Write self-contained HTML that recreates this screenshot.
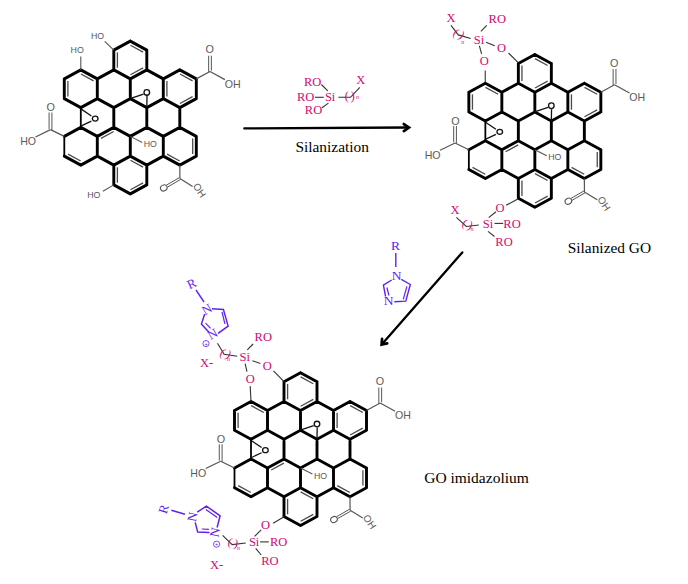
<!DOCTYPE html>
<html><head><meta charset="utf-8"><style>
html,body{margin:0;padding:0;background:#fff;}
body{width:688px;height:584px;overflow:hidden;}
svg{display:block;}
</style></head><body>
<svg width="688" height="584" viewBox="0 0 688 584">
<path d="M80.80 127.38L80.80 107.62" stroke="#000" stroke-width="1.8" stroke-linecap="round"/>
<path d="M64.30 156.12L64.30 136.38" stroke="#000" stroke-width="1.8" stroke-linecap="round"/>
<path d="M130.30 41.12L146.80 50.12M146.80 50.12L146.80 69.88M130.30 78.88L146.80 69.88M113.80 69.88L130.30 78.88M113.80 69.88L113.80 50.12M113.80 50.12L130.30 41.12M80.80 69.88L97.30 78.88M97.30 98.62L97.30 78.88M80.80 107.62L97.30 98.62M80.80 107.62L64.30 98.62M64.30 98.62L64.30 78.88M64.30 78.88L80.80 69.88M130.30 98.62L130.30 78.88M113.80 107.62L130.30 98.62M97.30 98.62L113.80 107.62M97.30 78.88L113.80 69.88M146.80 69.88L163.30 78.88M163.30 98.62L163.30 78.88M146.80 107.62L163.30 98.62M130.30 98.62L146.80 107.62M179.80 69.88L196.30 78.88M196.30 78.88L196.30 98.62M196.30 98.62L179.80 107.62M163.30 98.62L179.80 107.62M163.30 78.88L179.80 69.88M113.80 127.38L113.80 107.62M97.30 136.38L113.80 127.38M80.80 127.38L97.30 136.38M146.80 127.38L146.80 107.62M130.30 136.38L146.80 127.38M113.80 127.38L130.30 136.38M179.80 107.62L179.80 127.38M163.30 136.38L179.80 127.38M146.80 127.38L163.30 136.38M97.30 156.12L97.30 136.38M97.30 156.12L80.80 165.12M80.80 165.12L64.30 156.12M64.30 136.38L80.80 127.38M130.30 156.12L130.30 136.38M113.80 165.12L130.30 156.12M113.80 165.12L97.30 156.12M163.30 156.12L163.30 136.38M163.30 156.12L146.80 165.12M130.30 156.12L146.80 165.12M179.80 127.38L196.30 136.38M196.30 136.38L196.30 156.12M196.30 156.12L179.80 165.12M179.80 165.12L163.30 156.12M146.80 165.12L146.80 184.88M146.80 184.88L130.30 193.88M130.30 193.88L113.80 184.88M113.80 184.88L113.80 165.12" stroke="#000" stroke-width="2.9" stroke-linecap="round" fill="none"/>
<line x1="117.40" y1="67.67" x2="117.40" y2="52.33" stroke="#4a4a4a" stroke-width="1.3" stroke-linecap="butt"/>
<line x1="130.44" y1="45.30" x2="143.08" y2="52.19" stroke="#4a4a4a" stroke-width="1.3" stroke-linecap="butt"/>
<line x1="143.08" y1="67.81" x2="130.44" y2="74.70" stroke="#4a4a4a" stroke-width="1.3" stroke-linecap="butt"/>
<line x1="67.90" y1="96.42" x2="67.90" y2="81.08" stroke="#4a4a4a" stroke-width="1.3" stroke-linecap="butt"/>
<line x1="80.94" y1="74.05" x2="93.58" y2="80.94" stroke="#4a4a4a" stroke-width="1.3" stroke-linecap="butt"/>
<line x1="166.90" y1="96.42" x2="166.90" y2="81.08" stroke="#4a4a4a" stroke-width="1.3" stroke-linecap="butt"/>
<line x1="179.94" y1="74.05" x2="192.58" y2="80.94" stroke="#4a4a4a" stroke-width="1.3" stroke-linecap="butt"/>
<line x1="192.58" y1="96.56" x2="179.94" y2="103.45" stroke="#4a4a4a" stroke-width="1.3" stroke-linecap="butt"/>
<line x1="80.66" y1="160.95" x2="68.02" y2="154.06" stroke="#4a4a4a" stroke-width="1.3" stroke-linecap="butt"/>
<line x1="101.02" y1="138.44" x2="113.66" y2="131.55" stroke="#4a4a4a" stroke-width="1.3" stroke-linecap="butt"/>
<line x1="192.70" y1="138.57" x2="192.70" y2="153.93" stroke="#4a4a4a" stroke-width="1.3" stroke-linecap="butt"/>
<line x1="179.66" y1="160.95" x2="167.02" y2="154.06" stroke="#4a4a4a" stroke-width="1.3" stroke-linecap="butt"/>
<line x1="117.40" y1="182.68" x2="117.40" y2="167.32" stroke="#4a4a4a" stroke-width="1.3" stroke-linecap="butt"/>
<line x1="130.44" y1="160.30" x2="143.08" y2="167.19" stroke="#4a4a4a" stroke-width="1.3" stroke-linecap="butt"/>
<line x1="143.08" y1="182.81" x2="130.44" y2="189.70" stroke="#4a4a4a" stroke-width="1.3" stroke-linecap="butt"/>
<line x1="81.30" y1="109.12" x2="91.40" y2="115.95" stroke="#111" stroke-width="1.3" stroke-linecap="butt"/>
<line x1="81.30" y1="125.88" x2="91.40" y2="121.15" stroke="#111" stroke-width="1.3" stroke-linecap="butt"/>
<ellipse cx="95.20" cy="118.55" rx="2.8" ry="2.5" stroke="#111" stroke-width="1.3" fill="none"/>
<line x1="130.80" y1="98.33" x2="143.50" y2="94.05" stroke="#111" stroke-width="1.3" stroke-linecap="butt"/>
<line x1="146.80" y1="107.62" x2="147.00" y2="95.85" stroke="#111" stroke-width="1.3" stroke-linecap="butt"/>
<ellipse cx="146.80" cy="92.45" rx="2.8" ry="2.8" stroke="#111" stroke-width="1.3" fill="none"/>
<line x1="196.30" y1="78.88" x2="210.00" y2="71.45" stroke="#555" stroke-width="1.2" stroke-linecap="butt"/>
<line x1="208.60" y1="72.15" x2="208.60" y2="55.80" stroke="#666" stroke-width="1.1" stroke-linecap="butt"/>
<line x1="211.40" y1="70.75" x2="211.40" y2="55.80" stroke="#666" stroke-width="1.1" stroke-linecap="butt"/>
<text x="209.70" y="53.30" font-family="Liberation Sans" font-size="10.8" fill="#5a5a5a" text-anchor="middle">O</text>
<line x1="210.00" y1="71.45" x2="224.90" y2="79.65" stroke="#555" stroke-width="1.2" stroke-linecap="butt"/>
<text x="232.65" y="87.50" font-family="Liberation Sans" font-size="10.6" fill="#5a5a5a" text-anchor="middle">OH</text>
<line x1="64.30" y1="136.38" x2="50.50" y2="129.65" stroke="#555" stroke-width="1.2" stroke-linecap="butt"/>
<line x1="49.10" y1="128.95" x2="49.10" y2="112.60" stroke="#666" stroke-width="1.1" stroke-linecap="butt"/>
<line x1="51.90" y1="130.35" x2="51.90" y2="112.60" stroke="#666" stroke-width="1.1" stroke-linecap="butt"/>
<text x="50.80" y="111.30" font-family="Liberation Sans" font-size="10.8" fill="#5a5a5a" text-anchor="middle">O</text>
<line x1="50.50" y1="129.65" x2="35.50" y2="136.95" stroke="#555" stroke-width="1.2" stroke-linecap="butt"/>
<text x="28.10" y="145.30" font-family="Liberation Sans" font-size="10.6" fill="#5a5a5a" text-anchor="middle">HO</text>
<line x1="179.80" y1="165.12" x2="179.90" y2="178.60" stroke="#555" stroke-width="1.2" stroke-linecap="butt"/>
<line x1="180.45" y1="179.55" x2="167.47" y2="187.05" stroke="#555" stroke-width="1.0" stroke-linecap="butt"/>
<line x1="179.35" y1="177.65" x2="166.37" y2="185.15" stroke="#555" stroke-width="1.0" stroke-linecap="butt"/>
<ellipse cx="163.80" cy="187.90" rx="3.4" ry="2.9" transform="rotate(-30 163.80 187.90)" stroke="#555" stroke-width="1.1" fill="none"/>
<line x1="179.90" y1="178.60" x2="192.60" y2="186.45" stroke="#555" stroke-width="1.2" stroke-linecap="butt"/>
<text x="192.40" y="186.00" font-family="Liberation Sans" font-size="10" fill="#5a5a5a" text-anchor="start" transform="rotate(56 192.40 186.00)">OH</text>
<line x1="130.30" y1="136.38" x2="142.20" y2="142.50" stroke="#555" stroke-width="1.1" stroke-linecap="butt"/>
<text x="150.30" y="147.00" font-family="Liberation Sans" font-size="8.8" fill="#5a5a5a" text-anchor="middle">HO</text>
<line x1="113.80" y1="50.12" x2="104.70" y2="41.35" stroke="#555" stroke-width="1.1" stroke-linecap="butt"/>
<text x="97.50" y="38.70" font-family="Liberation Sans" font-size="8.8" fill="#5a5a5a" text-anchor="middle">HO</text>
<line x1="80.80" y1="69.88" x2="80.80" y2="56.60" stroke="#555" stroke-width="1.1" stroke-linecap="butt"/>
<text x="77.20" y="53.00" font-family="Liberation Sans" font-size="8.8" fill="#5a5a5a" text-anchor="middle">HO</text>
<line x1="113.80" y1="184.88" x2="102.90" y2="191.25" stroke="#555" stroke-width="1.1" stroke-linecap="butt"/>
<text x="93.80" y="198.40" font-family="Liberation Sans" font-size="8.8" fill="#5a5a5a" text-anchor="middle">HO</text>
<path d="M485.35 140.68L485.35 120.93" stroke="#000" stroke-width="1.8" stroke-linecap="round"/>
<path d="M468.85 169.43L468.85 149.68" stroke="#000" stroke-width="1.8" stroke-linecap="round"/>
<path d="M534.85 54.42L551.35 63.42M551.35 63.42L551.35 83.17M534.85 92.17L551.35 83.17M518.35 83.17L534.85 92.17M518.35 83.17L518.35 63.42M518.35 63.42L534.85 54.42M485.35 83.17L501.85 92.17M501.85 111.92L501.85 92.17M485.35 120.93L501.85 111.93M485.35 120.92L468.85 111.92M468.85 111.92L468.85 92.17M468.85 92.17L485.35 83.17M534.85 111.92L534.85 92.17M518.35 120.93L534.85 111.93M501.85 111.93L518.35 120.93M501.85 92.17L518.35 83.17M551.35 83.17L567.85 92.17M567.85 111.92L567.85 92.17M551.35 120.93L567.85 111.93M534.85 111.93L551.35 120.93M584.35 83.17L600.85 92.17M600.85 92.17L600.85 111.92M600.85 111.92L584.35 120.92M567.85 111.93L584.35 120.93M567.85 92.17L584.35 83.17M518.35 140.68L518.35 120.93M501.85 149.68L518.35 140.68M485.35 140.68L501.85 149.68M551.35 140.68L551.35 120.93M534.85 149.68L551.35 140.68M518.35 140.68L534.85 149.68M584.35 120.93L584.35 140.68M567.85 149.68L584.35 140.68M551.35 140.68L567.85 149.68M501.85 169.43L501.85 149.68M501.85 169.43L485.35 178.43M485.35 178.43L468.85 169.43M468.85 149.68L485.35 140.68M534.85 169.43L534.85 149.68M518.35 178.43L534.85 169.43M518.35 178.43L501.85 169.43M567.85 169.43L567.85 149.68M567.85 169.43L551.35 178.43M534.85 169.43L551.35 178.43M584.35 140.68L600.85 149.68M600.85 149.68L600.85 169.43M600.85 169.43L584.35 178.43M584.35 178.43L567.85 169.43M551.35 178.43L551.35 198.18M551.35 198.18L534.85 207.18M534.85 207.18L518.35 198.18M518.35 198.18L518.35 178.43" stroke="#000" stroke-width="2.9" stroke-linecap="round" fill="none"/>
<line x1="521.95" y1="80.97" x2="521.95" y2="65.62" stroke="#4a4a4a" stroke-width="1.3" stroke-linecap="butt"/>
<line x1="534.99" y1="58.60" x2="547.63" y2="65.49" stroke="#4a4a4a" stroke-width="1.3" stroke-linecap="butt"/>
<line x1="547.63" y1="81.11" x2="534.99" y2="88.00" stroke="#4a4a4a" stroke-width="1.3" stroke-linecap="butt"/>
<line x1="472.45" y1="109.72" x2="472.45" y2="94.38" stroke="#4a4a4a" stroke-width="1.3" stroke-linecap="butt"/>
<line x1="485.49" y1="87.35" x2="498.13" y2="94.24" stroke="#4a4a4a" stroke-width="1.3" stroke-linecap="butt"/>
<line x1="571.45" y1="109.72" x2="571.45" y2="94.38" stroke="#4a4a4a" stroke-width="1.3" stroke-linecap="butt"/>
<line x1="584.49" y1="87.35" x2="597.13" y2="94.24" stroke="#4a4a4a" stroke-width="1.3" stroke-linecap="butt"/>
<line x1="597.13" y1="109.86" x2="584.49" y2="116.75" stroke="#4a4a4a" stroke-width="1.3" stroke-linecap="butt"/>
<line x1="485.21" y1="174.25" x2="472.57" y2="167.36" stroke="#4a4a4a" stroke-width="1.3" stroke-linecap="butt"/>
<line x1="505.57" y1="151.74" x2="518.21" y2="144.85" stroke="#4a4a4a" stroke-width="1.3" stroke-linecap="butt"/>
<line x1="597.25" y1="151.88" x2="597.25" y2="167.23" stroke="#4a4a4a" stroke-width="1.3" stroke-linecap="butt"/>
<line x1="584.21" y1="174.25" x2="571.57" y2="167.36" stroke="#4a4a4a" stroke-width="1.3" stroke-linecap="butt"/>
<line x1="521.95" y1="195.98" x2="521.95" y2="180.62" stroke="#4a4a4a" stroke-width="1.3" stroke-linecap="butt"/>
<line x1="534.99" y1="173.60" x2="547.63" y2="180.49" stroke="#4a4a4a" stroke-width="1.3" stroke-linecap="butt"/>
<line x1="547.63" y1="196.11" x2="534.99" y2="203.00" stroke="#4a4a4a" stroke-width="1.3" stroke-linecap="butt"/>
<line x1="485.85" y1="122.43" x2="495.95" y2="129.25" stroke="#111" stroke-width="1.3" stroke-linecap="butt"/>
<line x1="485.85" y1="139.18" x2="495.95" y2="134.45" stroke="#111" stroke-width="1.3" stroke-linecap="butt"/>
<ellipse cx="499.75" cy="131.85" rx="2.8" ry="2.5" stroke="#111" stroke-width="1.3" fill="none"/>
<line x1="535.35" y1="111.62" x2="548.05" y2="107.35" stroke="#111" stroke-width="1.3" stroke-linecap="butt"/>
<line x1="551.35" y1="120.92" x2="551.55" y2="109.15" stroke="#111" stroke-width="1.3" stroke-linecap="butt"/>
<ellipse cx="551.35" cy="105.75" rx="2.8" ry="2.8" stroke="#111" stroke-width="1.3" fill="none"/>
<line x1="600.85" y1="92.17" x2="614.55" y2="84.75" stroke="#555" stroke-width="1.2" stroke-linecap="butt"/>
<line x1="613.15" y1="85.45" x2="613.15" y2="69.10" stroke="#666" stroke-width="1.1" stroke-linecap="butt"/>
<line x1="615.95" y1="84.05" x2="615.95" y2="69.10" stroke="#666" stroke-width="1.1" stroke-linecap="butt"/>
<text x="614.25" y="66.60" font-family="Liberation Sans" font-size="10.8" fill="#5a5a5a" text-anchor="middle">O</text>
<line x1="614.55" y1="84.75" x2="629.45" y2="92.95" stroke="#555" stroke-width="1.2" stroke-linecap="butt"/>
<text x="637.20" y="100.80" font-family="Liberation Sans" font-size="10.6" fill="#5a5a5a" text-anchor="middle">OH</text>
<line x1="468.85" y1="149.68" x2="455.05" y2="142.95" stroke="#555" stroke-width="1.2" stroke-linecap="butt"/>
<line x1="453.65" y1="142.25" x2="453.65" y2="125.90" stroke="#666" stroke-width="1.1" stroke-linecap="butt"/>
<line x1="456.45" y1="143.65" x2="456.45" y2="125.90" stroke="#666" stroke-width="1.1" stroke-linecap="butt"/>
<text x="455.35" y="124.60" font-family="Liberation Sans" font-size="10.8" fill="#5a5a5a" text-anchor="middle">O</text>
<line x1="455.05" y1="142.95" x2="440.05" y2="150.25" stroke="#555" stroke-width="1.2" stroke-linecap="butt"/>
<text x="432.65" y="158.60" font-family="Liberation Sans" font-size="10.6" fill="#5a5a5a" text-anchor="middle">HO</text>
<line x1="584.35" y1="178.43" x2="584.45" y2="191.90" stroke="#555" stroke-width="1.2" stroke-linecap="butt"/>
<line x1="585.00" y1="192.85" x2="572.02" y2="200.35" stroke="#555" stroke-width="1.0" stroke-linecap="butt"/>
<line x1="583.90" y1="190.95" x2="570.92" y2="198.45" stroke="#555" stroke-width="1.0" stroke-linecap="butt"/>
<ellipse cx="568.35" cy="201.20" rx="3.4" ry="2.9" transform="rotate(-30 568.35 201.20)" stroke="#555" stroke-width="1.1" fill="none"/>
<line x1="584.45" y1="191.90" x2="597.15" y2="199.75" stroke="#555" stroke-width="1.2" stroke-linecap="butt"/>
<text x="596.95" y="199.30" font-family="Liberation Sans" font-size="10" fill="#5a5a5a" text-anchor="start" transform="rotate(56 596.95 199.30)">OH</text>
<line x1="534.85" y1="149.68" x2="546.75" y2="155.80" stroke="#555" stroke-width="1.1" stroke-linecap="butt"/>
<text x="554.85" y="160.30" font-family="Liberation Sans" font-size="8.8" fill="#5a5a5a" text-anchor="middle">HO</text>
<path d="M251.00 458.98L251.00 439.23" stroke="#000" stroke-width="1.8" stroke-linecap="round"/>
<path d="M234.50 487.73L234.50 467.98" stroke="#000" stroke-width="1.8" stroke-linecap="round"/>
<path d="M300.50 372.73L317.00 381.73M317.00 381.73L317.00 401.48M300.50 410.48L317.00 401.48M284.00 401.48L300.50 410.48M284.00 401.48L284.00 381.73M284.00 381.73L300.50 372.73M251.00 401.48L267.50 410.48M267.50 430.23L267.50 410.48M251.00 439.23L267.50 430.23M251.00 439.23L234.50 430.23M234.50 430.23L234.50 410.48M234.50 410.48L251.00 401.48M300.50 430.23L300.50 410.48M284.00 439.23L300.50 430.23M267.50 430.23L284.00 439.23M267.50 410.48L284.00 401.48M317.00 401.48L333.50 410.48M333.50 430.23L333.50 410.48M317.00 439.23L333.50 430.23M300.50 430.23L317.00 439.23M350.00 401.48L366.50 410.48M366.50 410.48L366.50 430.23M366.50 430.23L350.00 439.23M333.50 430.23L350.00 439.23M333.50 410.48L350.00 401.48M284.00 458.98L284.00 439.23M267.50 467.98L284.00 458.98M251.00 458.98L267.50 467.98M317.00 458.98L317.00 439.23M300.50 467.98L317.00 458.98M284.00 458.98L300.50 467.98M350.00 439.23L350.00 458.98M333.50 467.98L350.00 458.98M317.00 458.98L333.50 467.98M267.50 487.73L267.50 467.98M267.50 487.73L251.00 496.73M251.00 496.73L234.50 487.73M234.50 467.98L251.00 458.98M300.50 487.73L300.50 467.98M284.00 496.73L300.50 487.73M284.00 496.73L267.50 487.73M333.50 487.73L333.50 467.98M333.50 487.73L317.00 496.73M300.50 487.73L317.00 496.73M350.00 458.98L366.50 467.98M366.50 467.98L366.50 487.73M366.50 487.73L350.00 496.73M350.00 496.73L333.50 487.73M317.00 496.73L317.00 516.48M317.00 516.48L300.50 525.48M300.50 525.48L284.00 516.48M284.00 516.48L284.00 496.73" stroke="#000" stroke-width="2.9" stroke-linecap="round" fill="none"/>
<line x1="287.60" y1="399.28" x2="287.60" y2="383.93" stroke="#4a4a4a" stroke-width="1.3" stroke-linecap="butt"/>
<line x1="300.64" y1="376.90" x2="313.28" y2="383.79" stroke="#4a4a4a" stroke-width="1.3" stroke-linecap="butt"/>
<line x1="313.28" y1="399.41" x2="300.64" y2="406.30" stroke="#4a4a4a" stroke-width="1.3" stroke-linecap="butt"/>
<line x1="238.10" y1="428.03" x2="238.10" y2="412.68" stroke="#4a4a4a" stroke-width="1.3" stroke-linecap="butt"/>
<line x1="251.14" y1="405.65" x2="263.78" y2="412.54" stroke="#4a4a4a" stroke-width="1.3" stroke-linecap="butt"/>
<line x1="337.10" y1="428.03" x2="337.10" y2="412.68" stroke="#4a4a4a" stroke-width="1.3" stroke-linecap="butt"/>
<line x1="350.14" y1="405.65" x2="362.78" y2="412.54" stroke="#4a4a4a" stroke-width="1.3" stroke-linecap="butt"/>
<line x1="362.78" y1="428.16" x2="350.14" y2="435.05" stroke="#4a4a4a" stroke-width="1.3" stroke-linecap="butt"/>
<line x1="250.86" y1="492.55" x2="238.22" y2="485.66" stroke="#4a4a4a" stroke-width="1.3" stroke-linecap="butt"/>
<line x1="271.22" y1="470.04" x2="283.86" y2="463.15" stroke="#4a4a4a" stroke-width="1.3" stroke-linecap="butt"/>
<line x1="362.90" y1="470.18" x2="362.90" y2="485.53" stroke="#4a4a4a" stroke-width="1.3" stroke-linecap="butt"/>
<line x1="349.86" y1="492.55" x2="337.22" y2="485.66" stroke="#4a4a4a" stroke-width="1.3" stroke-linecap="butt"/>
<line x1="287.60" y1="514.27" x2="287.60" y2="498.93" stroke="#4a4a4a" stroke-width="1.3" stroke-linecap="butt"/>
<line x1="300.64" y1="491.90" x2="313.28" y2="498.79" stroke="#4a4a4a" stroke-width="1.3" stroke-linecap="butt"/>
<line x1="313.28" y1="514.41" x2="300.64" y2="521.30" stroke="#4a4a4a" stroke-width="1.3" stroke-linecap="butt"/>
<line x1="251.50" y1="440.73" x2="261.60" y2="447.55" stroke="#111" stroke-width="1.3" stroke-linecap="butt"/>
<line x1="251.50" y1="457.48" x2="261.60" y2="452.75" stroke="#111" stroke-width="1.3" stroke-linecap="butt"/>
<ellipse cx="265.40" cy="450.15" rx="2.8" ry="2.5" stroke="#111" stroke-width="1.3" fill="none"/>
<line x1="301.00" y1="429.93" x2="313.70" y2="425.65" stroke="#111" stroke-width="1.3" stroke-linecap="butt"/>
<line x1="317.00" y1="439.23" x2="317.20" y2="427.45" stroke="#111" stroke-width="1.3" stroke-linecap="butt"/>
<ellipse cx="317.00" cy="424.05" rx="2.8" ry="2.8" stroke="#111" stroke-width="1.3" fill="none"/>
<line x1="366.50" y1="410.48" x2="380.20" y2="403.05" stroke="#555" stroke-width="1.2" stroke-linecap="butt"/>
<line x1="378.80" y1="403.75" x2="378.80" y2="387.40" stroke="#666" stroke-width="1.1" stroke-linecap="butt"/>
<line x1="381.60" y1="402.35" x2="381.60" y2="387.40" stroke="#666" stroke-width="1.1" stroke-linecap="butt"/>
<text x="379.90" y="384.90" font-family="Liberation Sans" font-size="10.8" fill="#5a5a5a" text-anchor="middle">O</text>
<line x1="380.20" y1="403.05" x2="395.10" y2="411.25" stroke="#555" stroke-width="1.2" stroke-linecap="butt"/>
<text x="402.85" y="419.10" font-family="Liberation Sans" font-size="10.6" fill="#5a5a5a" text-anchor="middle">OH</text>
<line x1="234.50" y1="467.98" x2="220.70" y2="461.25" stroke="#555" stroke-width="1.2" stroke-linecap="butt"/>
<line x1="219.30" y1="460.55" x2="219.30" y2="444.20" stroke="#666" stroke-width="1.1" stroke-linecap="butt"/>
<line x1="222.10" y1="461.95" x2="222.10" y2="444.20" stroke="#666" stroke-width="1.1" stroke-linecap="butt"/>
<text x="221.00" y="442.90" font-family="Liberation Sans" font-size="10.8" fill="#5a5a5a" text-anchor="middle">O</text>
<line x1="220.70" y1="461.25" x2="205.70" y2="468.55" stroke="#555" stroke-width="1.2" stroke-linecap="butt"/>
<text x="198.30" y="476.90" font-family="Liberation Sans" font-size="10.6" fill="#5a5a5a" text-anchor="middle">HO</text>
<line x1="350.00" y1="496.73" x2="350.10" y2="510.20" stroke="#555" stroke-width="1.2" stroke-linecap="butt"/>
<line x1="350.65" y1="511.15" x2="337.67" y2="518.65" stroke="#555" stroke-width="1.0" stroke-linecap="butt"/>
<line x1="349.55" y1="509.25" x2="336.57" y2="516.75" stroke="#555" stroke-width="1.0" stroke-linecap="butt"/>
<ellipse cx="334.00" cy="519.50" rx="3.4" ry="2.9" transform="rotate(-30 334.00 519.50)" stroke="#555" stroke-width="1.1" fill="none"/>
<line x1="350.10" y1="510.20" x2="362.80" y2="518.05" stroke="#555" stroke-width="1.2" stroke-linecap="butt"/>
<text x="362.60" y="517.60" font-family="Liberation Sans" font-size="10" fill="#5a5a5a" text-anchor="start" transform="rotate(56 362.60 517.60)">OH</text>
<line x1="300.50" y1="467.98" x2="312.40" y2="474.10" stroke="#555" stroke-width="1.1" stroke-linecap="butt"/>
<text x="320.50" y="478.60" font-family="Liberation Sans" font-size="8.8" fill="#5a5a5a" text-anchor="middle">HO</text>
<text x="312.65" y="86.30" font-family="Liberation Serif" font-size="12.5" fill="#d20a6f" text-anchor="middle">RO</text>
<text x="305.70" y="101.40" font-family="Liberation Serif" font-size="12.5" fill="#d20a6f" text-anchor="middle">RO</text>
<text x="330.15" y="101.40" font-family="Liberation Serif" font-size="12.5" fill="#d20a6f" text-anchor="middle">Si</text>
<text x="313.55" y="114.20" font-family="Liberation Serif" font-size="12.5" fill="#d20a6f" text-anchor="middle">RO</text>
<text x="360.65" y="84.00" font-family="Liberation Serif" font-size="12.5" fill="#d20a6f" text-anchor="middle">X</text>
<line x1="321.40" y1="84.50" x2="327.80" y2="90.90" stroke="#333" stroke-width="1.1" stroke-linecap="butt"/>
<line x1="315.00" y1="97.30" x2="323.70" y2="97.30" stroke="#333" stroke-width="1.1" stroke-linecap="butt"/>
<line x1="322.00" y1="107.80" x2="328.40" y2="103.10" stroke="#333" stroke-width="1.1" stroke-linecap="butt"/>
<path d="M338.30 97.30L350.50 97.30L359.80 87.40" stroke="#333" stroke-width="1.1" fill="none"/>
<g transform="translate(346.65 96.70) rotate(0)"><text x="0" y="3.60" font-family="Liberation Serif" font-size="12" fill="#d20a6f" text-anchor="middle">(</text></g>
<g transform="translate(352.75 96.70) rotate(0)"><text x="0" y="3.60" font-family="Liberation Serif" font-size="12" fill="#d20a6f" text-anchor="middle">)</text></g>
<text x="357.50" y="99.10" font-family="Liberation Serif" font-size="6" font-style="italic" fill="#d20a6f" text-anchor="middle">n</text>
<line x1="244.30" y1="128.40" x2="407.50" y2="127.51" stroke="#000" stroke-width="2.3" stroke-linecap="round"/>
<path d="M403.82 131.03L409.00 127.50L403.78 124.03" stroke="#000" stroke-width="2.7" fill="none" stroke-linejoin="miter" stroke-linecap="round"/>
<line x1="462.30" y1="252.40" x2="382.59" y2="343.47" stroke="#000" stroke-width="2.3" stroke-linecap="round"/>
<path d="M382.07 338.90L381.60 344.60L387.19 343.38" stroke="#000" stroke-width="2.7" fill="none" stroke-linejoin="miter" stroke-linecap="round"/>
<text x="332.20" y="151.50" font-family="Liberation Serif" font-size="15.4" fill="#000" text-anchor="middle">Silanization</text>
<text x="609.40" y="253.00" font-family="Liberation Serif" font-size="15.4" fill="#000" text-anchor="middle">Silanized GO</text>
<text x="476.50" y="482.50" font-family="Liberation Serif" font-size="15.5" fill="#000" text-anchor="middle">GO imidazolium</text>
<text x="395.50" y="249.70" font-family="Liberation Serif" font-size="13.5" fill="#6222ee" text-anchor="middle">R</text>
<line x1="395.80" y1="253.00" x2="395.80" y2="267.10" stroke="#6222ee" stroke-width="1.4" stroke-linecap="butt"/>
<text x="396.50" y="280.00" font-family="Liberation Serif" font-size="13.5" fill="#6222ee" text-anchor="middle">N</text>
<text x="388.50" y="305.00" font-family="Liberation Serif" font-size="13.5" fill="#6222ee" text-anchor="middle">N</text>
<path d="M401.30 279.30L410.30 284.50L405.80 301.20L394.30 301.80" stroke="#6222ee" stroke-width="1.4" fill="none"/>
<path d="M391.70 280.00L383.40 285.10L385.60 296.50" stroke="#6222ee" stroke-width="1.4" fill="none"/>
<line x1="406.90" y1="286.40" x2="403.30" y2="299.30" stroke="#6222ee" stroke-width="1.2" stroke-linecap="butt"/>
<line x1="386.90" y1="287.50" x2="388.90" y2="295.50" stroke="#6222ee" stroke-width="1.2" stroke-linecap="butt"/>
<text x="451.05" y="21.80" font-family="Liberation Serif" font-size="12.5" fill="#d20a6f" text-anchor="middle">X</text>
<text x="497.25" y="23.30" font-family="Liberation Serif" font-size="12.5" fill="#d20a6f" text-anchor="middle">RO</text>
<text x="479.05" y="43.60" font-family="Liberation Serif" font-size="12.5" fill="#d20a6f" text-anchor="middle">Si</text>
<text x="501.60" y="52.30" font-family="Liberation Serif" font-size="12.5" fill="#d20a6f" text-anchor="middle">O</text>
<text x="484.15" y="65.40" font-family="Liberation Serif" font-size="12.5" fill="#d20a6f" text-anchor="middle">O</text>
<line x1="480.90" y1="31.30" x2="486.70" y2="25.40" stroke="#333" stroke-width="1.1" stroke-linecap="butt"/>
<line x1="486.00" y1="42.20" x2="494.70" y2="45.80" stroke="#333" stroke-width="1.1" stroke-linecap="butt"/>
<line x1="479.40" y1="45.80" x2="481.60" y2="53.80" stroke="#333" stroke-width="1.1" stroke-linecap="butt"/>
<line x1="508.50" y1="53.00" x2="518.25" y2="62.70" stroke="#333" stroke-width="1.1" stroke-linecap="butt"/>
<line x1="485.25" y1="70.60" x2="485.25" y2="82.50" stroke="#333" stroke-width="1.1" stroke-linecap="butt"/>
<path d="M451.00 25.40L458.30 34.90L470.70 38.50" stroke="#333" stroke-width="1.1" fill="none"/>
<g transform="translate(456.05 32.69) rotate(35)"><text x="0" y="3.60" font-family="Liberation Serif" font-size="12" fill="#d20a6f" text-anchor="middle">(</text></g>
<g transform="translate(461.75 35.11) rotate(35)"><text x="0" y="3.60" font-family="Liberation Serif" font-size="12" fill="#d20a6f" text-anchor="middle">)</text></g>
<text x="462.70" y="44.10" font-family="Liberation Serif" font-size="6" font-style="italic" fill="#d20a6f" text-anchor="middle">n</text>
<text x="454.90" y="214.00" font-family="Liberation Serif" font-size="12.5" fill="#d20a6f" text-anchor="middle">X</text>
<text x="500.00" y="211.80" font-family="Liberation Serif" font-size="12.5" fill="#d20a6f" text-anchor="middle">O</text>
<text x="487.95" y="227.80" font-family="Liberation Serif" font-size="12.5" fill="#d20a6f" text-anchor="middle">Si</text>
<text x="512.00" y="227.80" font-family="Liberation Serif" font-size="12.5" fill="#d20a6f" text-anchor="middle">RO</text>
<text x="504.00" y="246.00" font-family="Liberation Serif" font-size="12.5" fill="#d20a6f" text-anchor="middle">RO</text>
<line x1="506.10" y1="205.30" x2="518.25" y2="198.80" stroke="#333" stroke-width="1.1" stroke-linecap="butt"/>
<line x1="488.70" y1="217.60" x2="496.00" y2="211.80" stroke="#333" stroke-width="1.1" stroke-linecap="butt"/>
<line x1="494.50" y1="223.40" x2="503.20" y2="223.40" stroke="#333" stroke-width="1.1" stroke-linecap="butt"/>
<line x1="488.00" y1="231.40" x2="494.50" y2="236.50" stroke="#333" stroke-width="1.1" stroke-linecap="butt"/>
<path d="M456.40 217.30L466.30 226.50L478.80 225.00" stroke="#333" stroke-width="1.1" fill="none"/>
<g transform="translate(464.59 223.34) rotate(25)"><text x="0" y="3.60" font-family="Liberation Serif" font-size="12" fill="#d20a6f" text-anchor="middle">(</text></g>
<g transform="translate(470.41 225.46) rotate(25)"><text x="0" y="3.60" font-family="Liberation Serif" font-size="12" fill="#d20a6f" text-anchor="middle">)</text></g>
<text x="472.10" y="231.00" font-family="Liberation Serif" font-size="6" font-style="italic" fill="#d20a6f" text-anchor="middle">n</text>
<g transform="translate(191.60 283.70) rotate(-25)"><text x="0" y="4.29" font-family="Liberation Serif" font-size="13" fill="#6222ee" text-anchor="middle">R</text></g>
<line x1="196.00" y1="290.00" x2="204.00" y2="302.00" stroke="#6222ee" stroke-width="1.4" stroke-linecap="butt"/>
<g transform="translate(207.00 309.40) rotate(-30)"><text x="0" y="4.29" font-family="Liberation Serif" font-size="13" fill="#6222ee" text-anchor="middle">N</text></g>
<path d="M212.00 308.70L223.40 309.40L228.10 326.10L218.00 333.40" stroke="#6222ee" stroke-width="1.5" fill="none"/>
<path d="M204.70 314.00L201.40 324.10L208.70 332.10" stroke="#6222ee" stroke-width="1.5" fill="none"/>
<line x1="222.00" y1="311.80" x2="224.90" y2="323.80" stroke="#6222ee" stroke-width="1.2" stroke-linecap="butt"/>
<line x1="205.60" y1="323.20" x2="210.60" y2="328.30" stroke="#6222ee" stroke-width="1.2" stroke-linecap="butt"/>
<g transform="translate(212.70 334.10) rotate(-30)"><text x="0" y="4.29" font-family="Liberation Serif" font-size="13" fill="#6222ee" text-anchor="middle">N</text></g>
<circle cx="206" cy="343.6" r="3.1" stroke="#6222ee" stroke-width="0.8" fill="none"/>
<g transform="translate(206.00 343.60) rotate(0)"><text x="0" y="1.98" font-family="Liberation Sans" font-size="5.5" fill="#6222ee" text-anchor="middle">+</text></g>
<path d="M217.50 343.30L224.10 354.20L237.20 356.30" stroke="#333" stroke-width="1.1" fill="none"/>
<g transform="translate(222.54 352.89) rotate(30)"><text x="0" y="3.60" font-family="Liberation Serif" font-size="12" fill="#d20a6f" text-anchor="middle">(</text></g>
<g transform="translate(228.46 354.71) rotate(30)"><text x="0" y="3.60" font-family="Liberation Serif" font-size="12" fill="#d20a6f" text-anchor="middle">)</text></g>
<text x="228.40" y="361.00" font-family="Liberation Serif" font-size="6" font-style="italic" fill="#d20a6f" text-anchor="middle">n</text>
<text x="244.75" y="360.70" font-family="Liberation Serif" font-size="12.5" fill="#d20a6f" text-anchor="middle">Si</text>
<text x="263.30" y="341.10" font-family="Liberation Serif" font-size="12.5" fill="#d20a6f" text-anchor="middle">RO</text>
<text x="267.30" y="370.10" font-family="Liberation Serif" font-size="12.5" fill="#d20a6f" text-anchor="middle">O</text>
<text x="250.25" y="382.50" font-family="Liberation Serif" font-size="12.5" fill="#d20a6f" text-anchor="middle">O</text>
<text x="206.60" y="367.20" font-family="Liberation Serif" font-size="12.5" fill="#d20a6f" text-anchor="middle">X-</text>
<line x1="247.30" y1="349.80" x2="253.10" y2="344.00" stroke="#333" stroke-width="1.1" stroke-linecap="butt"/>
<line x1="252.40" y1="360.70" x2="260.40" y2="363.60" stroke="#333" stroke-width="1.1" stroke-linecap="butt"/>
<line x1="245.10" y1="363.60" x2="247.00" y2="371.60" stroke="#333" stroke-width="1.1" stroke-linecap="butt"/>
<line x1="250.20" y1="386.10" x2="251.00" y2="401.50" stroke="#333" stroke-width="1.1" stroke-linecap="butt"/>
<line x1="273.50" y1="370.90" x2="284.00" y2="381.70" stroke="#333" stroke-width="1.1" stroke-linecap="butt"/>
<g transform="translate(163.60 509.20) rotate(-73)"><text x="0" y="4.29" font-family="Liberation Serif" font-size="13" fill="#6222ee" text-anchor="middle">R</text></g>
<line x1="171.30" y1="510.20" x2="185.00" y2="514.30" stroke="#6222ee" stroke-width="1.5" stroke-linecap="butt"/>
<g transform="translate(192.60 516.80) rotate(-78)"><text x="0" y="4.29" font-family="Liberation Serif" font-size="13" fill="#6222ee" text-anchor="middle">N</text></g>
<path d="M197.20 512.20L206.40 506.10L220.10 515.80L217.10 527.50" stroke="#6222ee" stroke-width="1.5" fill="none"/>
<path d="M195.20 522.40L197.70 532.10L209.50 532.40" stroke="#6222ee" stroke-width="1.5" fill="none"/>
<line x1="205.90" y1="509.60" x2="217.20" y2="517.60" stroke="#6222ee" stroke-width="1.2" stroke-linecap="butt"/>
<line x1="201.80" y1="529.00" x2="208.90" y2="529.30" stroke="#6222ee" stroke-width="1.2" stroke-linecap="butt"/>
<g transform="translate(215.00 532.20) rotate(-78)"><text x="0" y="4.29" font-family="Liberation Serif" font-size="13" fill="#6222ee" text-anchor="middle">N</text></g>
<circle cx="216.6" cy="544.2" r="3.1" stroke="#6222ee" stroke-width="0.8" fill="none"/>
<g transform="translate(216.60 544.20) rotate(0)"><text x="0" y="1.98" font-family="Liberation Sans" font-size="5.5" fill="#6222ee" text-anchor="middle">+</text></g>
<path d="M222.60 535.40L232.20 544.60L245.80 543.00" stroke="#333" stroke-width="1.1" fill="none"/>
<g transform="translate(229.99 542.25) rotate(14)"><text x="0" y="3.60" font-family="Liberation Serif" font-size="12" fill="#d20a6f" text-anchor="middle">(</text></g>
<g transform="translate(236.01 543.75) rotate(14)"><text x="0" y="3.60" font-family="Liberation Serif" font-size="12" fill="#d20a6f" text-anchor="middle">)</text></g>
<text x="238.60" y="549.50" font-family="Liberation Serif" font-size="6" font-style="italic" fill="#d20a6f" text-anchor="middle">n</text>
<text x="254.10" y="546.20" font-family="Liberation Serif" font-size="12.5" fill="#d20a6f" text-anchor="middle">Si</text>
<text x="265.55" y="528.80" font-family="Liberation Serif" font-size="12.5" fill="#d20a6f" text-anchor="middle">O</text>
<text x="278.60" y="546.20" font-family="Liberation Serif" font-size="12.5" fill="#d20a6f" text-anchor="middle">RO</text>
<text x="269.90" y="564.80" font-family="Liberation Serif" font-size="12.5" fill="#d20a6f" text-anchor="middle">RO</text>
<text x="216.50" y="569.10" font-family="Liberation Serif" font-size="12.5" fill="#d20a6f" text-anchor="middle">X-</text>
<line x1="254.60" y1="536.40" x2="261.20" y2="529.90" stroke="#333" stroke-width="1.1" stroke-linecap="butt"/>
<line x1="273.20" y1="523.30" x2="284.00" y2="516.70" stroke="#333" stroke-width="1.1" stroke-linecap="butt"/>
<line x1="260.10" y1="541.90" x2="268.80" y2="541.90" stroke="#333" stroke-width="1.1" stroke-linecap="butt"/>
<line x1="255.70" y1="548.40" x2="261.20" y2="555.00" stroke="#333" stroke-width="1.1" stroke-linecap="butt"/>
</svg>
</body></html>
